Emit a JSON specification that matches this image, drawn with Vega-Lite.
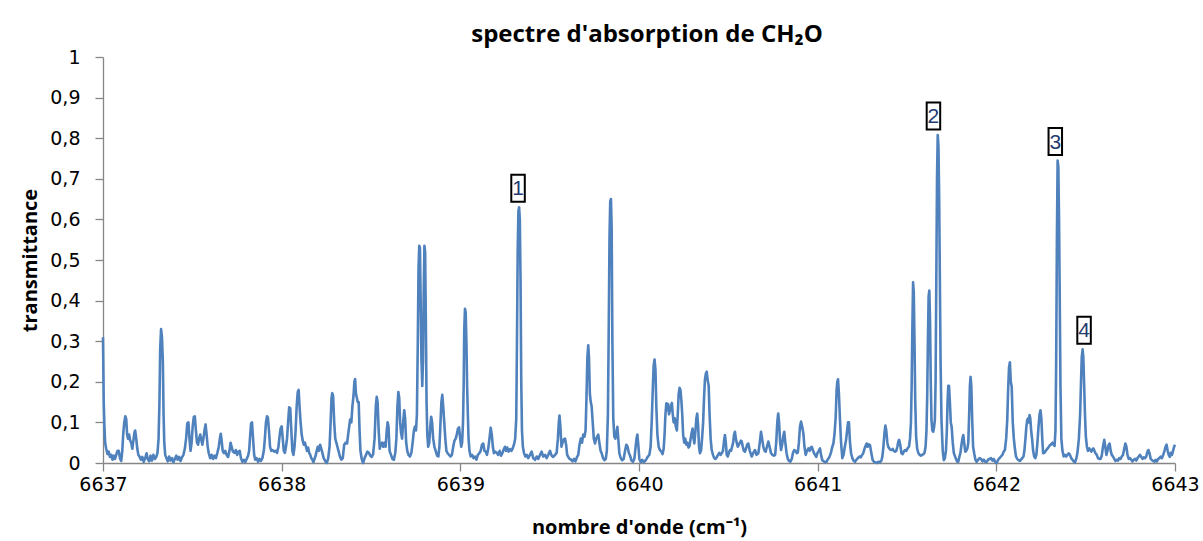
{
"$schema": "https://vega.github.io/schema/vega-lite/v6.json",
"width": 1072, "height": 406,
"autosize": {"type": "none"},
"padding": {"left": 103, "top": 57, "right": 28, "bottom": 78},
"background": "white",
"config": {
 "view": {"stroke": null},
 "locale": {"number": {"decimal": ",", "thousands": "\u00a0", "grouping": [3], "currency": ["", " €"]}},
 "axis": {"grid": false, "domainColor": "#868686", "tickColor": "#868686", "tickSize": 8, "domainWidth": 1.3, "tickWidth": 1.3,
  "labelFont": "DejaVu Sans", "labelFontSize": 19, "labelColor": "#000", "labelOverlap": false, "labelFlush": false,
  "titleFont": "Open Sans", "titleFontSize": 20, "titleFontWeight": "bold", "titleColor": "#000"}
},
"title": {"text": "spectre d'absorption de CH₂O", "font": "Open Sans", "fontSize": 24, "fontWeight": "bold", "color": "#000", "anchor": "middle", "frame": "group", "baseline": "bottom", "offset": 8, "dy": 31, "dx": 8},
"datasets": {
"spectre": [
{"wn":6637.000,"t":0.31},{"wn":6637.004,"t":0.15},{"wn":6637.008,"t":0.09},{"wn":6637.012,"t":0.05},{"wn":6637.018,"t":0.035},{"wn":6637.025,"t":0.022},{"wn":6637.032,"t":0.028},{"wn":6637.039,"t":0.015},{"wn":6637.046,"t":0.02},{"wn":6637.053,"t":0.008},{"wn":6637.060,"t":0.018},{"wn":6637.067,"t":0.01},{"wn":6637.074,"t":0.02},{"wn":6637.081,"t":0.03},{"wn":6637.088,"t":0.03},{"wn":6637.095,"t":0.012},{"wn":6637.102,"t":0.005},{"wn":6637.108,"t":0.03},{"wn":6637.113,"t":0.07},{"wn":6637.119,"t":0.10},{"wn":6637.125,"t":0.115},{"wn":6637.130,"t":0.108},{"wn":6637.135,"t":0.07},{"wn":6637.140,"t":0.06},{"wn":6637.146,"t":0.07},{"wn":6637.152,"t":0.055},{"wn":6637.158,"t":0.05},{"wn":6637.164,"t":0.035},{"wn":6637.170,"t":0.055},{"wn":6637.176,"t":0.075},{"wn":6637.180,"t":0.08},{"wn":6637.186,"t":0.06},{"wn":6637.192,"t":0.035},{"wn":6637.198,"t":0.02},{"wn":6637.204,"t":0.016},{"wn":6637.212,"t":0.008},{"wn":6637.220,"t":0.015},{"wn":6637.228,"t":0.003},{"wn":6637.236,"t":0.012},{"wn":6637.244,"t":0.024},{"wn":6637.250,"t":0.01},{"wn":6637.258,"t":0.004},{"wn":6637.266,"t":0.018},{"wn":6637.274,"t":0.006},{"wn":6637.282,"t":0.02},{"wn":6637.290,"t":0.01},{"wn":6637.298,"t":0.015},{"wn":6637.305,"t":0.025},{"wn":6637.311,"t":0.06},{"wn":6637.316,"t":0.15},{"wn":6637.320,"t":0.28},{"wn":6637.325,"t":0.33},{"wn":6637.330,"t":0.31},{"wn":6637.335,"t":0.25},{"wn":6637.339,"t":0.12},{"wn":6637.343,"t":0.05},{"wn":6637.348,"t":0.02},{"wn":6637.355,"t":0.012},{"wn":6637.362,"t":0.004},{"wn":6637.370,"t":0.016},{"wn":6637.378,"t":0.006},{"wn":6637.386,"t":0.012},{"wn":6637.394,"t":0.002},{"wn":6637.402,"t":0.01},{"wn":6637.410,"t":0.018},{"wn":6637.418,"t":0.008},{"wn":6637.426,"t":0.015},{"wn":6637.434,"t":0.005},{"wn":6637.442,"t":0.014},{"wn":6637.450,"t":0.02},{"wn":6637.458,"t":0.035},{"wn":6637.465,"t":0.06},{"wn":6637.472,"t":0.098},{"wn":6637.478,"t":0.10},{"wn":6637.484,"t":0.06},{"wn":6637.490,"t":0.03},{"wn":6637.496,"t":0.05},{"wn":6637.502,"t":0.09},{"wn":6637.508,"t":0.113},{"wn":6637.514,"t":0.115},{"wn":6637.520,"t":0.08},{"wn":6637.526,"t":0.05},{"wn":6637.532,"t":0.045},{"wn":6637.538,"t":0.06},{"wn":6637.544,"t":0.07},{"wn":6637.549,"t":0.06},{"wn":6637.556,"t":0.045},{"wn":6637.562,"t":0.06},{"wn":6637.568,"t":0.08},{"wn":6637.574,"t":0.095},{"wn":6637.580,"t":0.07},{"wn":6637.586,"t":0.04},{"wn":6637.592,"t":0.024},{"wn":6637.600,"t":0.012},{"wn":6637.608,"t":0.02},{"wn":6637.616,"t":0.01},{"wn":6637.624,"t":0.018},{"wn":6637.632,"t":0.012},{"wn":6637.640,"t":0.025},{"wn":6637.648,"t":0.04},{"wn":6637.654,"t":0.06},{"wn":6637.659,"t":0.072},{"wn":6637.664,"t":0.055},{"wn":6637.670,"t":0.03},{"wn":6637.677,"t":0.024},{"wn":6637.684,"t":0.03},{"wn":6637.692,"t":0.02},{"wn":6637.700,"t":0.015},{"wn":6637.708,"t":0.03},{"wn":6637.714,"t":0.05},{"wn":6637.720,"t":0.04},{"wn":6637.727,"t":0.028},{"wn":6637.735,"t":0.025},{"wn":6637.743,"t":0.032},{"wn":6637.751,"t":0.02},{"wn":6637.758,"t":0.028},{"wn":6637.765,"t":0.03},{"wn":6637.772,"t":0.012},{"wn":6637.780,"t":0.003},{"wn":6637.788,"t":0.008},{"wn":6637.796,"t":0.002},{"wn":6637.804,"t":0.01},{"wn":6637.812,"t":0.018},{"wn":6637.818,"t":0.03},{"wn":6637.824,"t":0.07},{"wn":6637.829,"t":0.098},{"wn":6637.834,"t":0.1},{"wn":6637.840,"t":0.06},{"wn":6637.846,"t":0.02},{"wn":6637.852,"t":0.008},{"wn":6637.860,"t":0.012},{"wn":6637.868,"t":0.003},{"wn":6637.876,"t":0.01},{"wn":6637.884,"t":0.005},{"wn":6637.892,"t":0.012},{"wn":6637.900,"t":0.03},{"wn":6637.906,"t":0.06},{"wn":6637.912,"t":0.1},{"wn":6637.918,"t":0.115},{"wn":6637.923,"t":0.112},{"wn":6637.929,"t":0.08},{"wn":6637.935,"t":0.04},{"wn":6637.942,"t":0.03},{"wn":6637.950,"t":0.032},{"wn":6637.958,"t":0.028},{"wn":6637.966,"t":0.03},{"wn":6637.974,"t":0.025},{"wn":6637.982,"t":0.04},{"wn":6637.988,"t":0.065},{"wn":6637.994,"t":0.085},{"wn":6638.000,"t":0.09},{"wn":6638.006,"t":0.06},{"wn":6638.012,"t":0.03},{"wn":6638.018,"t":0.025},{"wn":6638.024,"t":0.04},{"wn":6638.030,"t":0.06},{"wn":6638.036,"t":0.1},{"wn":6638.042,"t":0.137},{"wn":6638.048,"t":0.135},{"wn":6638.054,"t":0.08},{"wn":6638.060,"t":0.03},{"wn":6638.066,"t":0.02},{"wn":6638.072,"t":0.04},{"wn":6638.078,"t":0.08},{"wn":6638.084,"t":0.14},{"wn":6638.090,"t":0.175},{"wn":6638.095,"t":0.18},{"wn":6638.100,"t":0.14},{"wn":6638.106,"t":0.1},{"wn":6638.112,"t":0.07},{"wn":6638.118,"t":0.055},{"wn":6638.124,"t":0.045},{"wn":6638.130,"t":0.05},{"wn":6638.136,"t":0.04},{"wn":6638.142,"t":0.03},{"wn":6638.148,"t":0.038},{"wn":6638.154,"t":0.025},{"wn":6638.160,"t":0.02},{"wn":6638.166,"t":0.012},{"wn":6638.172,"t":0.008},{"wn":6638.178,"t":0.002},{"wn":6638.184,"t":0.01},{"wn":6638.190,"t":0.018},{"wn":6638.196,"t":0.03},{"wn":6638.202,"t":0.04},{"wn":6638.208,"t":0.03},
{"wn":6638.215,"t":0.045},{"wn":6638.225,"t":0.03},{"wn":6638.235,"t":0.012},{"wn":6638.245,"t":0.004},{"wn":6638.252,"t":0.0},{"wn":6638.260,"t":0.01},{"wn":6638.268,"t":0.04},{"wn":6638.274,"t":0.1},{"wn":6638.279,"t":0.16},{"wn":6638.283,"t":0.172},{"wn":6638.288,"t":0.165},{"wn":6638.294,"t":0.1},{"wn":6638.300,"t":0.06},{"wn":6638.306,"t":0.05},{"wn":6638.312,"t":0.04},{"wn":6638.318,"t":0.03},{"wn":6638.326,"t":0.016},{"wn":6638.334,"t":0.008},{"wn":6638.342,"t":0.012},{"wn":6638.350,"t":0.045},{"wn":6638.358,"t":0.05},{"wn":6638.366,"t":0.048},{"wn":6638.372,"t":0.07},{"wn":6638.378,"t":0.09},{"wn":6638.383,"t":0.107},{"wn":6638.390,"t":0.1},{"wn":6638.396,"t":0.14},{"wn":6638.402,"t":0.165},{"wn":6638.407,"t":0.2},{"wn":6638.411,"t":0.207},{"wn":6638.416,"t":0.17},{"wn":6638.421,"t":0.16},{"wn":6638.426,"t":0.15},{"wn":6638.431,"t":0.15},{"wn":6638.436,"t":0.08},{"wn":6638.441,"t":0.03},{"wn":6638.448,"t":0.01},{"wn":6638.456,"t":0.0},{"wn":6638.464,"t":0.012},{"wn":6638.472,"t":0.02},{"wn":6638.480,"t":0.028},{"wn":6638.488,"t":0.025},{"wn":6638.496,"t":0.018},{"wn":6638.504,"t":0.015},{"wn":6638.512,"t":0.022},{"wn":6638.520,"t":0.06},{"wn":6638.527,"t":0.14},{"wn":6638.532,"t":0.163},{"wn":6638.537,"t":0.15},{"wn":6638.543,"t":0.08},{"wn":6638.549,"t":0.035},{"wn":6638.555,"t":0.045},{"wn":6638.562,"t":0.05},{"wn":6638.569,"t":0.04},{"wn":6638.576,"t":0.05},{"wn":6638.582,"t":0.04},{"wn":6638.588,"t":0.08},{"wn":6638.593,"t":0.1},{"wn":6638.598,"t":0.09},{"wn":6638.604,"t":0.03},{"wn":6638.612,"t":0.02},{"wn":6638.620,"t":0.01},{"wn":6638.628,"t":0.008},{"wn":6638.636,"t":0.025},{"wn":6638.642,"t":0.06},{"wn":6638.648,"t":0.14},{"wn":6638.653,"t":0.175},{"wn":6638.658,"t":0.16},{"wn":6638.663,"t":0.1},{"wn":6638.668,"t":0.075},{"wn":6638.674,"t":0.06},{"wn":6638.680,"t":0.1},{"wn":6638.686,"t":0.13},{"wn":6638.691,"t":0.11},{"wn":6638.697,"t":0.05},{"wn":6638.703,"t":0.03},{"wn":6638.710,"t":0.02},{"wn":6638.718,"t":0.016},{"wn":6638.726,"t":0.025},{"wn":6638.733,"t":0.05},{"wn":6638.740,"t":0.08},{"wn":6638.746,"t":0.09},{"wn":6638.752,"t":0.08},{"wn":6638.757,"t":0.12},{"wn":6638.762,"t":0.3},{"wn":6638.766,"t":0.48},{"wn":6638.770,"t":0.535},{"wn":6638.774,"t":0.53},{"wn":6638.778,"t":0.4},{"wn":6638.782,"t":0.26},{"wn":6638.787,"t":0.19},{"wn":6638.791,"t":0.25},{"wn":6638.795,"t":0.42},{"wn":6638.799,"t":0.535},{"wn":6638.803,"t":0.52},{"wn":6638.807,"t":0.35},{"wn":6638.811,"t":0.15},{"wn":6638.815,"t":0.07},{"wn":6638.820,"t":0.04},{"wn":6638.826,"t":0.05},{"wn":6638.832,"t":0.09},{"wn":6638.837,"t":0.114},{"wn":6638.842,"t":0.1},{"wn":6638.848,"t":0.06},{"wn":6638.855,"t":0.04},{"wn":6638.862,"t":0.03},{"wn":6638.870,"t":0.018},{"wn":6638.877,"t":0.016},{"wn":6638.883,"t":0.04},{"wn":6638.889,"t":0.1},{"wn":6638.894,"t":0.15},{"wn":6638.899,"t":0.168},{"wn":6638.904,"t":0.14},{"wn":6638.910,"t":0.1},{"wn":6638.916,"t":0.06},{"wn":6638.922,"t":0.03},{"wn":6638.929,"t":0.024},{"wn":6638.937,"t":0.02},{"wn":6638.945,"t":0.016},{"wn":6638.953,"t":0.02},{"wn":6638.960,"t":0.04},{"wn":6638.967,"t":0.055},{"wn":6638.974,"t":0.06},{"wn":6638.980,"t":0.07},{"wn":6638.987,"t":0.085},{"wn":6638.993,"t":0.088},{"wn":6638.999,"t":0.06},{"wn":6639.005,"t":0.04},{"wn":6639.010,"t":0.05},{"wn":6639.015,"t":0.1},{"wn":6639.019,"t":0.2},{"wn":6639.022,"t":0.33},{"wn":6639.026,"t":0.38},{"wn":6639.030,"t":0.37},{"wn":6639.034,"t":0.3},{"wn":6639.038,"t":0.19},{"wn":6639.042,"t":0.12},{"wn":6639.046,"t":0.06},{"wn":6639.051,"t":0.03},{"wn":6639.058,"t":0.016},{"wn":6639.066,"t":0.02},{"wn":6639.074,"t":0.012},{"wn":6639.082,"t":0.016},{"wn":6639.090,"t":0.008},{"wn":6639.098,"t":0.02},{"wn":6639.106,"t":0.024},{"wn":6639.114,"t":0.03},{"wn":6639.121,"t":0.045},{"wn":6639.128,"t":0.048},{"wn":6639.135,"t":0.03},{"wn":6639.142,"t":0.028},{"wn":6639.149,"t":0.02},{"wn":6639.156,"t":0.035},{"wn":6639.163,"t":0.06},{"wn":6639.170,"t":0.087},{"wn":6639.176,"t":0.07},{"wn":6639.182,"t":0.04},{"wn":6639.188,"t":0.024},{"wn":6639.196,"t":0.028},{"wn":6639.204,"t":0.025},{"wn":6639.212,"t":0.02},{"wn":6639.220,"t":0.03},{"wn":6639.228,"t":0.018},{"wn":6639.236,"t":0.025},{"wn":6639.244,"t":0.035},{"wn":6639.250,"t":0.04},{"wn":6639.256,"t":0.03},{"wn":6639.263,"t":0.038},{"wn":6639.270,"t":0.028},{"wn":6639.278,"t":0.034},{"wn":6639.286,"t":0.03},{"wn":6639.293,"t":0.036},{"wn":6639.300,"t":0.045},{"wn":6639.307,"t":0.06},{"wn":6639.313,"t":0.11},{"wn":6639.317,"t":0.3},{"wn":6639.321,"t":0.52},{"wn":6639.325,"t":0.62},{"wn":6639.329,"t":0.63},{"wn":6639.333,"t":0.6},{"wn":6639.337,"t":0.45},{"wn":6639.341,"t":0.2},{"wn":6639.345,"t":0.08},{"wn":6639.350,"t":0.04},{"wn":6639.356,"t":0.025},{"wn":6639.364,"t":0.016},{"wn":6639.372,"t":0.02},{"wn":6639.380,"t":0.012},
{"wn":6639.390,"t":0.02},{"wn":6639.399,"t":0.028},{"wn":6639.408,"t":0.012},{"wn":6639.418,"t":0.008},{"wn":6639.427,"t":0.016},{"wn":6639.436,"t":0.01},{"wn":6639.446,"t":0.02},{"wn":6639.455,"t":0.028},{"wn":6639.464,"t":0.016},{"wn":6639.474,"t":0.02},{"wn":6639.483,"t":0.012},{"wn":6639.492,"t":0.02},{"wn":6639.502,"t":0.03},{"wn":6639.511,"t":0.018},{"wn":6639.520,"t":0.015},{"wn":6639.530,"t":0.02},{"wn":6639.539,"t":0.025},{"wn":6639.546,"t":0.06},{"wn":6639.551,"t":0.1},{"wn":6639.555,"t":0.117},{"wn":6639.560,"t":0.09},{"wn":6639.566,"t":0.04},{"wn":6639.572,"t":0.05},{"wn":6639.579,"t":0.058},{"wn":6639.586,"t":0.06},{"wn":6639.592,"t":0.045},{"wn":6639.598,"t":0.02},{"wn":6639.604,"t":0.015},{"wn":6639.612,"t":0.01},{"wn":6639.620,"t":0.008},{"wn":6639.628,"t":0.004},{"wn":6639.636,"t":0.01},{"wn":6639.644,"t":0.004},{"wn":6639.652,"t":0.014},{"wn":6639.660,"t":0.02},{"wn":6639.667,"t":0.045},{"wn":6639.674,"t":0.06},{"wn":6639.681,"t":0.05},{"wn":6639.688,"t":0.07},{"wn":6639.695,"t":0.065},{"wn":6639.701,"t":0.08},{"wn":6639.706,"t":0.16},{"wn":6639.711,"t":0.26},{"wn":6639.716,"t":0.29},{"wn":6639.720,"t":0.26},{"wn":6639.725,"t":0.17},{"wn":6639.730,"t":0.15},{"wn":6639.735,"t":0.139},{"wn":6639.741,"t":0.1},{"wn":6639.747,"t":0.06},{"wn":6639.754,"t":0.048},{"wn":6639.760,"t":0.06},{"wn":6639.766,"t":0.065},{"wn":6639.772,"t":0.07},{"wn":6639.778,"t":0.05},{"wn":6639.785,"t":0.03},{"wn":6639.791,"t":0.024},{"wn":6639.799,"t":0.012},{"wn":6639.806,"t":0.007},{"wn":6639.814,"t":0.01},{"wn":6639.820,"t":0.03},{"wn":6639.826,"t":0.12},{"wn":6639.831,"t":0.35},{"wn":6639.835,"t":0.56},{"wn":6639.839,"t":0.645},{"wn":6639.843,"t":0.65},{"wn":6639.847,"t":0.58},{"wn":6639.851,"t":0.3},{"wn":6639.856,"t":0.11},{"wn":6639.862,"t":0.065},{"wn":6639.868,"t":0.06},{"wn":6639.874,"t":0.075},{"wn":6639.879,"t":0.089},{"wn":6639.884,"t":0.06},{"wn":6639.890,"t":0.024},{"wn":6639.898,"t":0.012},{"wn":6639.906,"t":0.007},{"wn":6639.914,"t":0.01},{"wn":6639.922,"t":0.03},{"wn":6639.929,"t":0.045},{"wn":6639.936,"t":0.04},{"wn":6639.943,"t":0.025},{"wn":6639.950,"t":0.018},{"wn":6639.958,"t":0.006},{"wn":6639.966,"t":0.003},{"wn":6639.974,"t":0.01},{"wn":6639.980,"t":0.035},{"wn":6639.986,"t":0.06},{"wn":6639.991,"t":0.07},{"wn":6639.996,"t":0.045},{"wn":6640.002,"t":0.01},{"wn":6640.010,"t":0.002},{"wn":6640.018,"t":0.008},{"wn":6640.026,"t":0.002},{"wn":6640.034,"t":0.005},{"wn":6640.042,"t":0.01},{"wn":6640.050,"t":0.016},{"wn":6640.058,"t":0.02},{"wn":6640.065,"t":0.04},{"wn":6640.071,"t":0.1},{"wn":6640.077,"t":0.18},{"wn":6640.082,"t":0.24},{"wn":6640.087,"t":0.255},{"wn":6640.092,"t":0.23},{"wn":6640.097,"t":0.14},{"wn":6640.103,"t":0.07},{"wn":6640.110,"t":0.04},{"wn":6640.117,"t":0.032},{"wn":6640.125,"t":0.028},{"wn":6640.132,"t":0.022},{"wn":6640.138,"t":0.035},{"wn":6640.143,"t":0.07},{"wn":6640.148,"t":0.12},{"wn":6640.153,"t":0.147},{"wn":6640.158,"t":0.13},{"wn":6640.163,"t":0.145},{"wn":6640.168,"t":0.12},{"wn":6640.174,"t":0.13},{"wn":6640.179,"t":0.14},{"wn":6640.184,"t":0.148},{"wn":6640.189,"t":0.12},{"wn":6640.194,"t":0.1},{"wn":6640.200,"t":0.11},{"wn":6640.206,"t":0.09},{"wn":6640.212,"t":0.08},{"wn":6640.217,"t":0.12},{"wn":6640.222,"t":0.17},{"wn":6640.227,"t":0.185},{"wn":6640.232,"t":0.18},{"wn":6640.237,"t":0.155},{"wn":6640.242,"t":0.12},{"wn":6640.247,"t":0.07},{"wn":6640.253,"t":0.05},{"wn":6640.259,"t":0.06},{"wn":6640.265,"t":0.045},{"wn":6640.271,"t":0.05},{"wn":6640.277,"t":0.038},{"wn":6640.283,"t":0.042},{"wn":6640.289,"t":0.06},{"wn":6640.295,"t":0.075},{"wn":6640.300,"t":0.085},{"wn":6640.305,"t":0.06},{"wn":6640.310,"t":0.048},{"wn":6640.316,"t":0.08},{"wn":6640.321,"t":0.11},{"wn":6640.326,"t":0.122},{"wn":6640.331,"t":0.09},{"wn":6640.336,"t":0.04},{"wn":6640.341,"t":0.024},{"wn":6640.347,"t":0.03},{"wn":6640.353,"t":0.06},{"wn":6640.359,"t":0.1},{"wn":6640.364,"t":0.16},{"wn":6640.369,"t":0.205},{"wn":6640.374,"t":0.22},{"wn":6640.379,"t":0.225},{"wn":6640.384,"t":0.205},{"wn":6640.390,"t":0.19},{"wn":6640.395,"t":0.12},{"wn":6640.401,"t":0.06},{"wn":6640.407,"t":0.032},{"wn":6640.414,"t":0.02},{"wn":6640.421,"t":0.012},{"wn":6640.428,"t":0.01},{"wn":6640.435,"t":0.014},{"wn":6640.442,"t":0.02},{"wn":6640.449,"t":0.025},{"wn":6640.456,"t":0.02},{"wn":6640.463,"t":0.024},{"wn":6640.470,"t":0.03},{"wn":6640.476,"t":0.055},{"wn":6640.481,"t":0.069},{"wn":6640.486,"t":0.05},{"wn":6640.491,"t":0.02},{"wn":6640.497,"t":0.016},{"wn":6640.503,"t":0.025},{"wn":6640.509,"t":0.032},{"wn":6640.515,"t":0.03},{"wn":6640.521,"t":0.04},{"wn":6640.527,"t":0.05},{"wn":6640.532,"t":0.07},{"wn":6640.537,"t":0.077},{"wn":6640.542,"t":0.06},{"wn":6640.548,"t":0.048},{"wn":6640.553,"t":0.04},{"wn":6640.559,"t":0.045},{"wn":6640.565,"t":0.05},{"wn":6640.570,"t":0.055},{"wn":6640.575,"t":0.053},{"wn":6640.581,"t":0.04},{"wn":6640.587,"t":0.03},{"wn":6640.593,"t":0.028},{"wn":6640.599,"t":0.035},{"wn":6640.605,"t":0.045},{"wn":6640.612,"t":0.048},
{"wn":6640.620,"t":0.03},{"wn":6640.631,"t":0.016},{"wn":6640.640,"t":0.025},{"wn":6640.649,"t":0.032},{"wn":6640.658,"t":0.02},{"wn":6640.668,"t":0.024},{"wn":6640.676,"t":0.05},{"wn":6640.683,"t":0.077},{"wn":6640.689,"t":0.06},{"wn":6640.696,"t":0.04},{"wn":6640.703,"t":0.03},{"wn":6640.709,"t":0.028},{"wn":6640.716,"t":0.04},{"wn":6640.724,"t":0.053},{"wn":6640.731,"t":0.04},{"wn":6640.739,"t":0.024},{"wn":6640.747,"t":0.02},{"wn":6640.755,"t":0.018},{"wn":6640.762,"t":0.02},{"wn":6640.768,"t":0.05},{"wn":6640.774,"t":0.1},{"wn":6640.779,"t":0.122},{"wn":6640.784,"t":0.1},{"wn":6640.790,"t":0.05},{"wn":6640.795,"t":0.032},{"wn":6640.801,"t":0.045},{"wn":6640.807,"t":0.065},{"wn":6640.813,"t":0.077},{"wn":6640.819,"t":0.05},{"wn":6640.826,"t":0.024},{"wn":6640.833,"t":0.01},{"wn":6640.840,"t":0.005},{"wn":6640.847,"t":0.003},{"wn":6640.855,"t":0.01},{"wn":6640.862,"t":0.025},{"wn":6640.869,"t":0.032},{"wn":6640.876,"t":0.03},{"wn":6640.883,"t":0.024},{"wn":6640.889,"t":0.026},{"wn":6640.895,"t":0.05},{"wn":6640.901,"t":0.09},{"wn":6640.907,"t":0.102},{"wn":6640.913,"t":0.09},{"wn":6640.920,"t":0.073},{"wn":6640.926,"t":0.04},{"wn":6640.933,"t":0.02},{"wn":6640.940,"t":0.03},{"wn":6640.948,"t":0.036},{"wn":6640.955,"t":0.03},{"wn":6640.962,"t":0.038},{"wn":6640.967,"t":0.04},{"wn":6640.973,"t":0.032},{"wn":6640.979,"t":0.025},{"wn":6640.985,"t":0.02},{"wn":6640.992,"t":0.015},{"wn":6640.999,"t":0.025},{"wn":6641.006,"t":0.03},{"wn":6641.013,"t":0.036},{"wn":6641.019,"t":0.02},{"wn":6641.026,"t":0.007},{"wn":6641.034,"t":0.004},{"wn":6641.042,"t":0.002},{"wn":6641.050,"t":0.003},{"wn":6641.058,"t":0.01},{"wn":6641.066,"t":0.015},{"wn":6641.074,"t":0.025},{"wn":6641.082,"t":0.04},{"wn":6641.088,"t":0.048},{"wn":6641.094,"t":0.07},{"wn":6641.101,"t":0.114},{"wn":6641.106,"t":0.18},{"wn":6641.110,"t":0.2},{"wn":6641.114,"t":0.206},{"wn":6641.119,"t":0.17},{"wn":6641.125,"t":0.106},{"wn":6641.131,"t":0.05},{"wn":6641.138,"t":0.012},{"wn":6641.145,"t":0.02},{"wn":6641.152,"t":0.04},{"wn":6641.159,"t":0.057},{"wn":6641.165,"t":0.08},{"wn":6641.170,"t":0.1},{"wn":6641.175,"t":0.1},{"wn":6641.181,"t":0.05},{"wn":6641.187,"t":0.024},{"wn":6641.194,"t":0.012},{"wn":6641.201,"t":0.006},{"wn":6641.209,"t":0.003},{"wn":6641.217,"t":0.008},{"wn":6641.225,"t":0.012},{"wn":6641.233,"t":0.016},{"wn":6641.241,"t":0.014},{"wn":6641.249,"t":0.02},{"wn":6641.255,"t":0.024},{"wn":6641.262,"t":0.035},{"wn":6641.268,"t":0.042},{"wn":6641.274,"t":0.048},{"wn":6641.280,"t":0.04},{"wn":6641.286,"t":0.046},{"wn":6641.293,"t":0.044},{"wn":6641.300,"t":0.025},{"wn":6641.308,"t":0.007},{"wn":6641.316,"t":0.003},{"wn":6641.324,"t":0.001},{"wn":6641.332,"t":0.0},{"wn":6641.340,"t":0.003},{"wn":6641.348,"t":0.002},{"wn":6641.356,"t":0.005},{"wn":6641.362,"t":0.015},{"wn":6641.368,"t":0.04},{"wn":6641.374,"t":0.075},{"wn":6641.379,"t":0.092},{"wn":6641.384,"t":0.08},{"wn":6641.390,"t":0.05},{"wn":6641.395,"t":0.04},{"wn":6641.402,"t":0.035},{"wn":6641.408,"t":0.032},{"wn":6641.414,"t":0.032},{"wn":6641.420,"t":0.035},{"wn":6641.426,"t":0.03},{"wn":6641.433,"t":0.028},{"wn":6641.440,"t":0.03},{"wn":6641.446,"t":0.04},{"wn":6641.451,"t":0.052},{"wn":6641.456,"t":0.057},{"wn":6641.462,"t":0.045},{"wn":6641.469,"t":0.024},{"wn":6641.476,"t":0.022},{"wn":6641.482,"t":0.028},{"wn":6641.489,"t":0.032},{"wn":6641.496,"t":0.03},{"wn":6641.503,"t":0.036},{"wn":6641.511,"t":0.04},{"wn":6641.517,"t":0.06},{"wn":6641.522,"t":0.1},{"wn":6641.526,"t":0.19},{"wn":6641.530,"t":0.33},{"wn":6641.534,"t":0.445},{"wn":6641.538,"t":0.42},{"wn":6641.542,"t":0.3},{"wn":6641.546,"t":0.155},{"wn":6641.551,"t":0.065},{"wn":6641.557,"t":0.035},{"wn":6641.564,"t":0.024},{"wn":6641.571,"t":0.02},{"wn":6641.578,"t":0.018},{"wn":6641.585,"t":0.02},{"wn":6641.592,"t":0.022},{"wn":6641.598,"t":0.025},{"wn":6641.604,"t":0.04},{"wn":6641.609,"t":0.08},{"wn":6641.613,"t":0.163},{"wn":6641.617,"t":0.3},{"wn":6641.621,"t":0.41},{"wn":6641.625,"t":0.425},{"wn":6641.629,"t":0.35},{"wn":6641.633,"t":0.2},{"wn":6641.637,"t":0.106},{"wn":6641.642,"t":0.08},{"wn":6641.647,"t":0.077},{"wn":6641.652,"t":0.09},{"wn":6641.656,"t":0.106},{"wn":6641.660,"t":0.2},{"wn":6641.664,"t":0.45},{"wn":6641.668,"t":0.7},{"wn":6641.672,"t":0.808},{"wn":6641.676,"t":0.78},{"wn":6641.680,"t":0.656},{"wn":6641.684,"t":0.45},{"wn":6641.688,"t":0.246},{"wn":6641.693,"t":0.106},{"wn":6641.700,"t":0.03},{"wn":6641.706,"t":0.007},{"wn":6641.712,"t":0.012},{"wn":6641.718,"t":0.03},{"wn":6641.723,"t":0.08},{"wn":6641.727,"t":0.15},{"wn":6641.731,"t":0.19},{"wn":6641.735,"t":0.19},{"wn":6641.740,"t":0.15},{"wn":6641.745,"t":0.1},{"wn":6641.750,"t":0.089},{"wn":6641.756,"t":0.05},{"wn":6641.762,"t":0.025},{"wn":6641.769,"t":0.016},{"wn":6641.776,"t":0.008},{"wn":6641.782,"t":0.003},{"wn":6641.787,"t":0.003},{"wn":6641.793,"t":0.015},{"wn":6641.799,"t":0.025},{"wn":6641.805,"t":0.045},{"wn":6641.810,"t":0.06},{"wn":6641.815,"t":0.069},
{"wn":6641.820,"t":0.05},{"wn":6641.826,"t":0.028},{"wn":6641.832,"t":0.03},{"wn":6641.838,"t":0.036},{"wn":6641.843,"t":0.05},{"wn":6641.848,"t":0.12},{"wn":6641.852,"t":0.19},{"wn":6641.856,"t":0.212},{"wn":6641.860,"t":0.19},{"wn":6641.865,"t":0.106},{"wn":6641.870,"t":0.04},{"wn":6641.876,"t":0.024},{"wn":6641.883,"t":0.008},{"wn":6641.890,"t":0.003},{"wn":6641.898,"t":0.008},{"wn":6641.906,"t":0.012},{"wn":6641.914,"t":0.01},{"wn":6641.922,"t":0.004},{"wn":6641.930,"t":0.008},{"wn":6641.938,"t":0.003},{"wn":6641.946,"t":0.003},{"wn":6641.954,"t":0.008},{"wn":6641.962,"t":0.01},{"wn":6641.970,"t":0.012},{"wn":6641.978,"t":0.006},{"wn":6641.986,"t":0.01},{"wn":6641.994,"t":0.002},{"wn":6642.002,"t":0.0},{"wn":6642.010,"t":0.008},{"wn":6642.018,"t":0.012},{"wn":6642.026,"t":0.016},{"wn":6642.034,"t":0.02},{"wn":6642.041,"t":0.028},{"wn":6642.048,"t":0.032},{"wn":6642.055,"t":0.06},{"wn":6642.061,"t":0.106},{"wn":6642.066,"t":0.18},{"wn":6642.071,"t":0.235},{"wn":6642.076,"t":0.248},{"wn":6642.081,"t":0.2},{"wn":6642.086,"t":0.188},{"wn":6642.092,"t":0.1},{"wn":6642.098,"t":0.06},{"wn":6642.104,"t":0.035},{"wn":6642.110,"t":0.016},{"wn":6642.117,"t":0.01},{"wn":6642.124,"t":0.007},{"wn":6642.131,"t":0.005},{"wn":6642.138,"t":0.008},{"wn":6642.145,"t":0.012},{"wn":6642.152,"t":0.016},{"wn":6642.157,"t":0.03},{"wn":6642.163,"t":0.06},{"wn":6642.168,"t":0.089},{"wn":6642.173,"t":0.106},{"wn":6642.178,"t":0.11},{"wn":6642.182,"t":0.1},{"wn":6642.186,"t":0.118},{"wn":6642.190,"t":0.11},{"wn":6642.195,"t":0.08},{"wn":6642.200,"t":0.06},{"wn":6642.206,"t":0.03},{"wn":6642.212,"t":0.016},{"wn":6642.218,"t":0.012},{"wn":6642.224,"t":0.02},{"wn":6642.230,"t":0.05},{"wn":6642.236,"t":0.089},{"wn":6642.242,"t":0.12},{"wn":6642.247,"t":0.13},{"wn":6642.252,"t":0.11},{"wn":6642.257,"t":0.06},{"wn":6642.262,"t":0.024},{"wn":6642.268,"t":0.025},{"wn":6642.274,"t":0.028},{"wn":6642.280,"t":0.032},{"wn":6642.287,"t":0.036},{"wn":6642.294,"t":0.04},{"wn":6642.300,"t":0.044},{"wn":6642.307,"t":0.046},{"wn":6642.314,"t":0.05},{"wn":6642.320,"t":0.045},{"wn":6642.326,"t":0.042},{"wn":6642.331,"t":0.08},{"wn":6642.335,"t":0.25},{"wn":6642.339,"t":0.55},{"wn":6642.343,"t":0.745},{"wn":6642.347,"t":0.73},{"wn":6642.351,"t":0.6},{"wn":6642.355,"t":0.4},{"wn":6642.359,"t":0.188},{"wn":6642.364,"t":0.06},{"wn":6642.370,"t":0.03},{"wn":6642.377,"t":0.016},{"wn":6642.384,"t":0.02},{"wn":6642.391,"t":0.016},{"wn":6642.398,"t":0.02},{"wn":6642.405,"t":0.024},{"wn":6642.412,"t":0.02},{"wn":6642.419,"t":0.012},{"wn":6642.426,"t":0.008},{"wn":6642.433,"t":0.004},{"wn":6642.440,"t":0.001},{"wn":6642.447,"t":0.01},{"wn":6642.454,"t":0.025},{"wn":6642.462,"t":0.06},{"wn":6642.469,"t":0.12},{"wn":6642.474,"t":0.2},{"wn":6642.478,"t":0.26},{"wn":6642.483,"t":0.28},{"wn":6642.487,"t":0.26},{"wn":6642.491,"t":0.2},{"wn":6642.496,"t":0.12},{"wn":6642.501,"t":0.065},{"wn":6642.507,"t":0.04},{"wn":6642.513,"t":0.03},{"wn":6642.520,"t":0.036},{"wn":6642.526,"t":0.032},{"wn":6642.532,"t":0.028},{"wn":6642.538,"t":0.034},{"wn":6642.543,"t":0.036},{"wn":6642.549,"t":0.03},{"wn":6642.555,"t":0.024},{"wn":6642.562,"t":0.02},{"wn":6642.569,"t":0.012},{"wn":6642.576,"t":0.01},{"wn":6642.583,"t":0.01},{"wn":6642.590,"t":0.018},{"wn":6642.597,"t":0.04},{"wn":6642.604,"t":0.057},{"wn":6642.610,"t":0.04},{"wn":6642.616,"t":0.02},{"wn":6642.622,"t":0.03},{"wn":6642.628,"t":0.044},{"wn":6642.634,"t":0.048},{"wn":6642.640,"t":0.03},{"wn":6642.646,"t":0.02},{"wn":6642.653,"t":0.016},{"wn":6642.660,"t":0.01},{"wn":6642.667,"t":0.005},{"wn":6642.674,"t":0.008},{"wn":6642.681,"t":0.006},{"wn":6642.688,"t":0.012},{"wn":6642.695,"t":0.01},{"wn":6642.702,"t":0.016},{"wn":6642.709,"t":0.02},{"wn":6642.716,"t":0.035},{"wn":6642.722,"t":0.048},{"wn":6642.728,"t":0.04},{"wn":6642.734,"t":0.02},{"wn":6642.741,"t":0.01},{"wn":6642.748,"t":0.012},{"wn":6642.755,"t":0.008},{"wn":6642.762,"t":0.004},{"wn":6642.769,"t":0.008},{"wn":6642.776,"t":0.01},{"wn":6642.783,"t":0.006},{"wn":6642.790,"t":0.012},{"wn":6642.797,"t":0.016},{"wn":6642.804,"t":0.02},{"wn":6642.811,"t":0.015},{"wn":6642.818,"t":0.01},{"wn":6642.825,"t":0.014},{"wn":6642.832,"t":0.012},{"wn":6642.839,"t":0.016},{"wn":6642.846,"t":0.028},{"wn":6642.851,"t":0.032},{"wn":6642.857,"t":0.025},{"wn":6642.864,"t":0.01},{"wn":6642.871,"t":0.007},{"wn":6642.878,"t":0.005},{"wn":6642.885,"t":0.003},{"wn":6642.892,"t":0.008},{"wn":6642.899,"t":0.004},{"wn":6642.906,"t":0.01},{"wn":6642.913,"t":0.012},{"wn":6642.920,"t":0.016},{"wn":6642.927,"t":0.012},{"wn":6642.934,"t":0.02},{"wn":6642.941,"t":0.03},{"wn":6642.947,"t":0.04},{"wn":6642.953,"t":0.045},{"wn":6642.959,"t":0.03},{"wn":6642.965,"t":0.02},{"wn":6642.971,"t":0.015},{"wn":6642.977,"t":0.025},{"wn":6642.983,"t":0.02},{"wn":6642.989,"t":0.03},{"wn":6642.995,"t":0.04},{"wn":6643.000,"t":0.045}
],
"pics": [
{"label":"1","wn":6639.323,"t":0.63},
{"label":"2","wn":6641.648,"t":0.808},
{"label":"3","wn":6642.330,"t":0.745},
{"label":"4","wn":6642.491,"t":0.28}
]
},
"encoding": {
 "x": {"field": "wn", "type": "quantitative", "scale": {"domain": [6637, 6643], "nice": false, "zero": false},
  "axis": {"values": [6637, 6638, 6639, 6640, 6641, 6642, 6643], "format": "d", "labelPadding": 4, "title": "nombre d'onde (cm⁻¹)", "titlePadding": 23}},
 "y": {"field": "t", "type": "quantitative", "scale": {"domain": [0, 1], "nice": false, "zero": true},
  "axis": {"values": [0, 0.1, 0.2, 0.3, 0.4, 0.5, 0.6, 0.7, 0.8, 0.9, 1], "format": ".1~f", "labelPadding": 15, "title": "transmittance", "titlePadding": 9}}
},
"layer": [
 {"data": {"name": "spectre"}, "mark": {"type": "line", "color": "#4F81BD", "strokeWidth": 2.6, "strokeJoin": "round"}},
 {"data": {"name": "pics"}, "mark": {"type": "point", "shape": "M-0.5,-1H0.5V1H-0.5Z", "size": 729, "filled": false, "stroke": "#000", "strokeWidth": 2, "opacity": 1, "yOffset": -19}},
 {"data": {"name": "pics"}, "mark": {"type": "text", "font": "Liberation Sans Narrow, Liberation Sans", "fontSize": 21, "color": "#1F3B70", "baseline": "middle", "align": "center", "yOffset": -18}, "encoding": {"text": {"field": "label"}}}
]
}
